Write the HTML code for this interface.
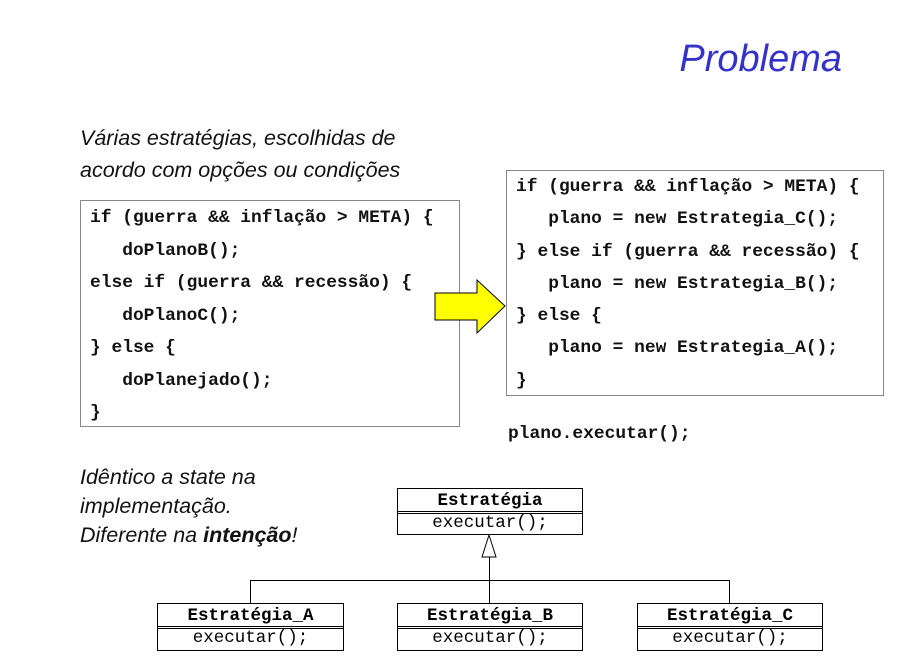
<!DOCTYPE html>
<html><head><meta charset="utf-8"><style>
body{margin:0;width:917px;height:657px;background:#fff;position:relative;overflow:hidden;font-family:"Liberation Sans",sans-serif}
.a{position:absolute}
.it{font-style:italic;font-size:21.5px;color:#111;line-height:32px}
.box{position:absolute;border:1px solid #888;background:#fff}
.code{position:absolute;font-family:"Liberation Mono",monospace;font-weight:bold;font-size:17.9px;white-space:pre;color:#111}
.u{position:absolute;border:1px solid #000;background:#fff;font-family:"Liberation Mono","DejaVu Sans Mono",monospace;text-align:center;font-size:17.5px;color:#000}
.u .n{font-weight:bold;height:22px;line-height:24px;border-bottom:3px double #000}
.u .m{line-height:18px}
</style></head><body>
<div class="a" style="right:75px;top:38px;font-size:38px;font-style:italic;color:#3333cc">Problema</div>
<div class="a it" style="left:80px;top:122px">Várias estratégias, escolhidas de<br>acordo com opções ou condições</div>
<div class="box" style="left:80px;top:200px;width:378px;height:225px"></div>
<div class="code" style="left:90px;top:202px;line-height:32.5px">if (guerra &amp;&amp; inflação &gt; META) {
   doPlanoB();
else if (guerra &amp;&amp; recessão) {
   doPlanoC();
} else {
   doPlanejado();
}</div>
<div class="box" style="left:506px;top:170px;width:376px;height:224px"></div>
<div class="code" style="left:516px;top:171px;line-height:32.3px">if (guerra &amp;&amp; inflação &gt; META) {
   plano = new Estrategia_C();
} else if (guerra &amp;&amp; recessão) {
   plano = new Estrategia_B();
} else {
   plano = new Estrategia_A();
}</div>
<div class="code" style="left:508px;top:424px">plano.executar();</div>
<svg class="a" style="left:0;top:0" width="917" height="657">
<polygon points="435,293 477,293 477,280 505,306 477,333 477,320 435,320" fill="#ff0" stroke="#000" stroke-width="1"/>
<polygon points="489,535 482,557 496,557" fill="#fff" stroke="#000"/>
<line x1="489.5" y1="557" x2="489.5" y2="603" stroke="#000"/>
<line x1="250" y1="580.5" x2="730" y2="580.5" stroke="#000"/>
<line x1="250.5" y1="580" x2="250.5" y2="603" stroke="#000"/>
<line x1="729.5" y1="580" x2="729.5" y2="603" stroke="#000"/>
</svg>
<div class="a it" style="left:80px;top:463px;line-height:29px">Idêntico a state na<br>implementação.<br>Diferente na <b>intenção</b>!</div>
<div class="u" style="left:397px;top:488px;width:184px;height:45px"><div class="n">Estratégia</div><div class="m">executar();</div></div>
<div class="u" style="left:157px;top:603px;width:185px;height:46px"><div class="n">Estratégia_A</div><div class="m">executar();</div></div>
<div class="u" style="left:397px;top:603px;width:184px;height:46px"><div class="n">Estratégia_B</div><div class="m">executar();</div></div>
<div class="u" style="left:637px;top:603px;width:184px;height:46px"><div class="n">Estratégia_C</div><div class="m">executar();</div></div>
</body></html>
